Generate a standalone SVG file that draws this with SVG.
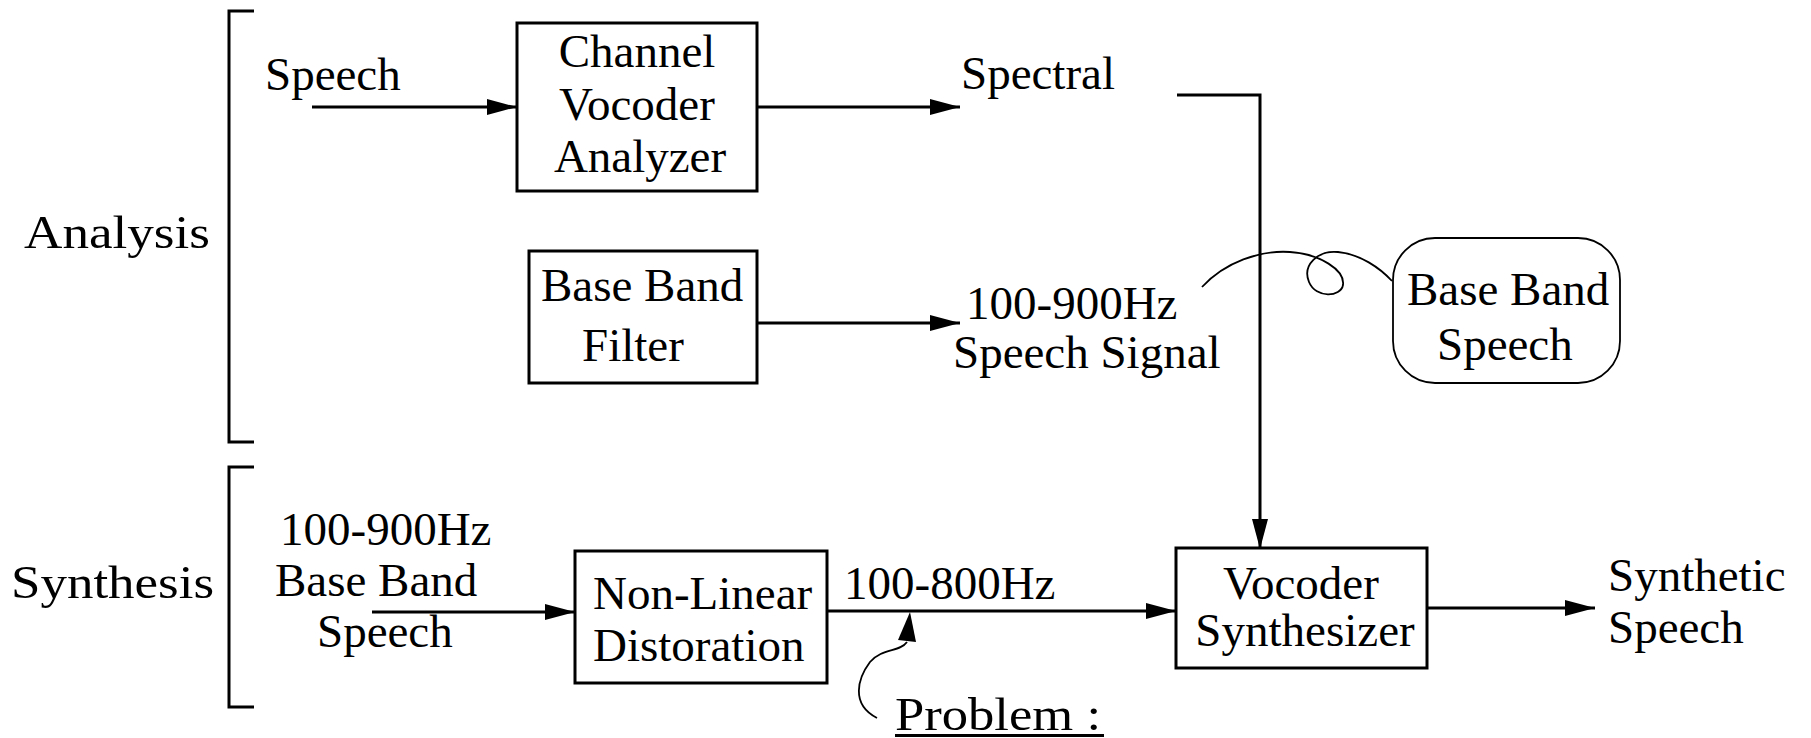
<svg xmlns="http://www.w3.org/2000/svg" width="1811" height="738" viewBox="0 0 1811 738">
  <style>
    text { font-family: "Liberation Serif", "Times New Roman", serif; font-size: 47px; fill: #000; }
    .box { fill: #fff; stroke: #000; stroke-width: 3; }
    .bubble { fill: #fff; stroke: #000; stroke-width: 1.8; }
    .wire { fill: none; stroke: #000; stroke-width: 3; }
    .thin { fill: none; stroke: #000; stroke-width: 1.8; }
    .mid { text-anchor: middle; }
  </style>
  <defs>
    <marker id="arrow" markerUnits="userSpaceOnUse" markerWidth="31" markerHeight="17" refX="30" refY="8" orient="auto" viewBox="0 0 31 17">
      <path d="M0,0 L30,8 L0,16 z" fill="#000"/>
    </marker>
  </defs>

  <rect width="1811" height="738" fill="#fff"/>

  <!-- section brackets -->
  <g id="analysis-section">
    <path class="wire" d="M254,11 H229 V442 H254"/>
    <text x="24" y="248" font-size="48" textLength="186" lengthAdjust="spacingAndGlyphs">Analysis</text>
  </g>
  <g id="synthesis-section">
    <path class="wire" d="M254,467 H229 V707 H254"/>
    <text x="11" y="598" font-size="48" textLength="203" lengthAdjust="spacingAndGlyphs">Synthesis</text>
  </g>

  <!-- connectors -->
  <g id="connectors">
    <line class="wire" x1="312" y1="107" x2="517" y2="107" marker-end="url(#arrow)"/>
    <line class="wire" x1="757" y1="107" x2="960" y2="107" marker-end="url(#arrow)"/>
    <line class="wire" x1="757" y1="323" x2="960" y2="323" marker-end="url(#arrow)"/>
    <path class="wire" d="M1177,95 H1260 V549" marker-end="url(#arrow)"/>
    <line class="wire" x1="372" y1="612" x2="575" y2="612" marker-end="url(#arrow)"/>
    <line class="wire" x1="827" y1="611" x2="1176" y2="611" marker-end="url(#arrow)"/>
    <line class="wire" x1="1427" y1="608" x2="1595" y2="608" marker-end="url(#arrow)"/>
    <!-- curl from the speech signal label to the callout -->
    <path class="thin" d="M1202,287 C1225,262 1260,250 1290,252 C1320,254 1345,270 1343,285 C1341,297 1316,299 1309,282 C1302,265 1318,250 1338,252 C1360,254 1380,268 1392,281"/>
    <!-- problem pointer -->
    <path class="thin" d="M907,642 C900,652 882,648 870,662 C858,678 850,704 877,718"/>
    <polygon points="910,612 898,640 916,642" fill="#000"/>
  </g>

  <!-- labels -->
  <g id="label-speech-in"><text x="265" y="90">Speech</text></g>
  <g id="label-spectral"><text x="961" y="89">Spectral</text></g>
  <g id="label-speech-signal">
    <text x="966" y="319">100-900Hz</text>
    <text x="953" y="368">Speech Signal</text>
  </g>
  <g id="label-baseband-in">
    <text x="280" y="545">100-900Hz</text>
    <text x="275" y="596">Base Band</text>
    <text x="317" y="647">Speech</text>
  </g>
  <g id="label-800">
    <text x="844" y="599">100-800Hz</text>
  </g>
  <g id="label-problem">
    <text x="895" y="730" textLength="206" lengthAdjust="spacingAndGlyphs">Problem :</text>
    <line x1="895" y1="735.5" x2="1104" y2="735.5" stroke="#000" stroke-width="3"/>
  </g>
  <g id="label-synthetic">
    <text x="1608" y="591">Synthetic</text>
    <text x="1608" y="643">Speech</text>
  </g>

  <!-- blocks -->
  <g id="channel-vocoder-analyzer">
    <rect class="box" x="517" y="23" width="240" height="168"/>
    <text class="mid" x="637" y="67">Channel</text>
    <text class="mid" x="637" y="120">Vocoder</text>
    <text class="mid" x="640" y="172">Analyzer</text>
  </g>
  <g id="base-band-filter">
    <rect class="box" x="529" y="251" width="228" height="132"/>
    <text x="541" y="301">Base Band</text>
    <text x="582" y="361">Filter</text>
  </g>
  <g id="base-band-speech">
    <rect class="bubble" x="1393" y="238" width="227" height="145" rx="42" ry="42"/>
    <text x="1407" y="305">Base Band</text>
    <text x="1437" y="360">Speech</text>
  </g>
  <g id="non-linear-distortion">
    <rect class="box" x="575" y="551" width="252" height="132"/>
    <text x="593" y="609">Non-Linear</text>
    <text x="593" y="661">Distoration</text>
  </g>
  <g id="vocoder-synthesizer">
    <rect class="box" x="1176" y="548" width="251" height="120"/>
    <text class="mid" x="1301" y="599">Vocoder</text>
    <text class="mid" x="1305" y="646">Synthesizer</text>
  </g>
</svg>
